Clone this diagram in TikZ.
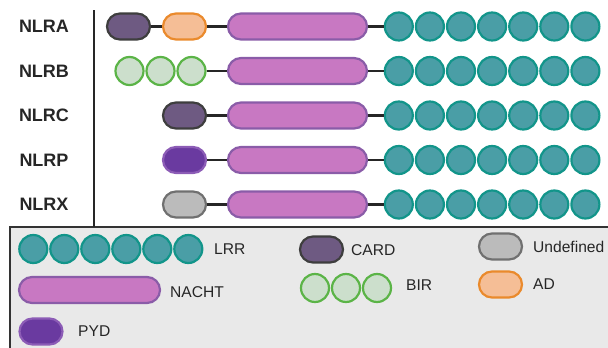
\documentclass[tikz,border=0pt]{standalone}
\usepackage{fontspec}
\setmainfont{Liberation Sans}
\definecolor{cardF}{HTML}{6E5A82}
\definecolor{cardD}{HTML}{3E3E3E}
\definecolor{adF}{HTML}{F5BE96}
\definecolor{adD}{HTML}{EA8A2C}
\definecolor{nacF}{HTML}{C878C2}
\definecolor{nacD}{HTML}{8A5CA8}
\definecolor{lrrF}{HTML}{4A9EA6}
\definecolor{lrrD}{HTML}{12958A}
\definecolor{birF}{HTML}{CCDFCC}
\definecolor{birD}{HTML}{5BB447}
\definecolor{pydF}{HTML}{6A3AA0}
\definecolor{pydD}{HTML}{8C5CB6}
\definecolor{undF}{HTML}{BBBBBB}
\definecolor{undD}{HTML}{707070}
\definecolor{legF}{HTML}{E9E9E9}
\begin{document}
\begin{tikzpicture}[x=1pt,y=-1pt,
  pill/.style={draw, rounded corners=13pt, minimum height=26pt, minimum width=43pt, line width=2.2pt, inner sep=0pt},
  bead/.style={draw, circle, minimum size=28pt, line width=2.2pt, inner sep=0pt},
  cardP/.style={pill, fill=cardF, draw=cardD},
  adP/.style={pill, fill=adF, draw=adD},
  nacP/.style={pill, fill=nacF, draw=nacD, minimum width=139pt},
  pydP/.style={pill, fill=pydF, draw=pydD},
  undP/.style={pill, fill=undF, draw=undD},
  lrrB/.style={bead, fill=lrrF, draw=lrrD},
  birB/.style={bead, fill=birF, draw=birD},
  link/.style={line width=2.4pt, draw=black!85},
  rowlab/.style={font=\fontsize{18}{20}\selectfont\bfseries, text=black!85},
  leglab/.style={font=\fontsize{15.6}{17}\selectfont, text=black!85, anchor=west, inner sep=0pt}
]
\useasboundingbox (0,0) rectangle (608,348);
% legend background
\draw[fill=legF, draw=black!80, line width=1.3pt] (10,227) rectangle (640,380);
\coordinate (vtop) at (94,10);
\coordinate (vbot) at (94,227);
\draw[line width=1.3pt, black!85] (vtop) -- (vbot);

% row labels
\node[rowlab] (lA) at (44,26.5) {NLRA};
\node[rowlab] (lB) at (44,71) {NLRB};
\node[rowlab] (lC) at (44,115.5) {NLRC};
\node[rowlab] (lP) at (44,160) {NLRP};
\node[rowlab] (lX) at (44,204.5) {NLRX};

% NACHT and LRR for all rows
\foreach \r/\y in {A/26.5,B/71,C/115.5,P/160,X/204.5}{
  \node[nacP] (nac\r) at (297.5,\y) {};
  \foreach \k in {0,...,6}{
    \node[lrrB] (lrr\r\k) at ({398.8+31.1*\k},\y) {};
  }
  \draw[link] (nac\r.east) -- (lrr\r0.west);
}
% NLRA
\node[cardP] (cardA) at (128.5,26.5) {};
\node[adP] (adA) at (184.5,26.5) {};
\draw[link] (cardA.east) -- (adA.west);
\draw[link] (adA.east) -- (nacA.west);
% NLRB
\foreach \k in {0,1,2}{
  \node[birB] (birB\k) at ({129.5+31*\k},71) {};
}
\draw[link] (birB2.east) -- (nacB.west);
% NLRC
\node[cardP] (cardC) at (184.5,115.5) {};
\draw[link] (cardC.east) -- (nacC.west);
% NLRP
\node[pydP] (pydP) at (184.5,160) {};
\draw[link] (pydP.east) -- (nacP.west);
% NLRX
\node[undP] (undX) at (184.5,204.5) {};
\draw[link] (undX.east) -- (nacX.west);

% legend
\foreach \k in {0,...,5}{
  \node[lrrB] (glrr\k) at ({33.3+31*\k},249) {};
}
\node[leglab] (tLRR) at (214,249) {LRR};
\node[nacP, minimum width=141pt] (gnac) at (89.5,290) {};
\node[leglab] (tNAC) at (170,292) {NACHT};
\node[pydP] (gpyd) at (41,331.5) {};
\node[leglab] (tPYD) at (78,331.5) {PYD};
\node[cardP] (gcard) at (321.5,249.5) {};
\node[leglab] (tCARD) at (351,250.5) {CARD};
\foreach \k in {0,1,2}{
  \node[birB] (gbir\k) at ({315+31*\k},288) {};
}
\node[leglab] (tBIR) at (406,285.5) {BIR};
\node[undP] (gund) at (500.5,246.5) {};
\node[leglab] (tUND) at (533,246.5) {Undefined};
\node[adP] (gad) at (500.5,284.5) {};
\node[leglab] (tAD) at (533,284.5) {AD};
\end{tikzpicture}
\end{document}
